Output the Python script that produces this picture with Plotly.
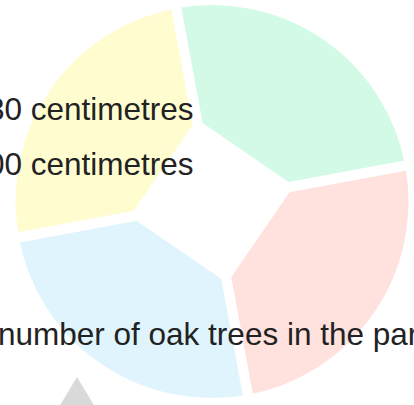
import math
import plotly.graph_objects as go

# ---- data ----
categories = ["Group A", "Group B", "Group C", "Group D"]
values = [25, 25, 25, 25]
slice_colors = ["#D2FAE6", "#FFE1DE", "#E0F4FD", "#FFFDD0"]
label_lines = ["30 centimetres", "00 centimetres"]
caption = "number of oak trees in the park"

W, H = 414, 405
cx, cy = 212, 201          # pie centre in px (from top-left)
R = 202                    # geometric radius incl. half gap line
rotation = -10.5

fig = go.Figure(go.Pie(
    labels=categories,
    values=values,
    sort=False,
    direction="clockwise",
    rotation=rotation,
    marker=dict(colors=slice_colors, line=dict(color="white", width=10)),
    textinfo="none",
    hoverinfo="skip",
    showlegend=False,
    domain=dict(x=[(cx - R) / W, min(1, (cx + R) / W)],
                y=[max(0, (H - cy - R) / H), min(1, (H - cy + R) / H)]),
))

def px_to_paper(x, y):
    return x / W, 1 - y / H

# centre cut-out (square hole with corners on slice gaps)
inr = 59
cr = inr * math.sqrt(2)
pts = []
for k in range(4):
    a = math.radians(rotation + 90 * k)
    pts.append(px_to_paper(cx + cr * math.sin(a), cy - cr * math.cos(a)))
path = "M " + " L ".join(f"{x:.5f},{y:.5f}" for x, y in pts) + " Z"

shapes = [
    dict(type="path", xref="paper", yref="paper", path=path,
         fillcolor="white", line=dict(width=0), layer="above"),
]
# grey scroll arrow at bottom
tri = [px_to_paper(77, 377), px_to_paper(56, 412), px_to_paper(98, 412)]
shapes.append(dict(type="path", xref="paper", yref="paper",
                   path="M " + " L ".join(f"{x:.5f},{y:.5f}" for x, y in tri) + " Z",
                   fillcolor="#D9D9D9", line=dict(width=0), layer="above"))

font = dict(family="Liberation Sans, Arial, sans-serif", size=31.5, color="#222222")
annotations = []
for i, t in enumerate(label_lines):
    bx, by = px_to_paper(196, [118, 173][i])
    annotations.append(dict(text=t, x=bx, y=by, xref="paper", yref="paper",
                            xanchor="right", yanchor="bottom", showarrow=False,
                            font=font, yshift=-11))
bx, by = px_to_paper(-4, 344)
annotations.append(dict(text=caption, x=bx, y=by, xref="paper", yref="paper",
                        xanchor="left", yanchor="bottom", showarrow=False,
                        font=font, yshift=-10))

fig.update_layout(
    width=W, height=H,
    margin=dict(l=0, r=0, t=0, b=0),
    paper_bgcolor="white", plot_bgcolor="white",
    shapes=shapes, annotations=annotations,
)
fig.write_html("out.html", config={"displayModeBar": False},
               post_script="document.body.style.margin='0';document.body.style.overflow='hidden';")
